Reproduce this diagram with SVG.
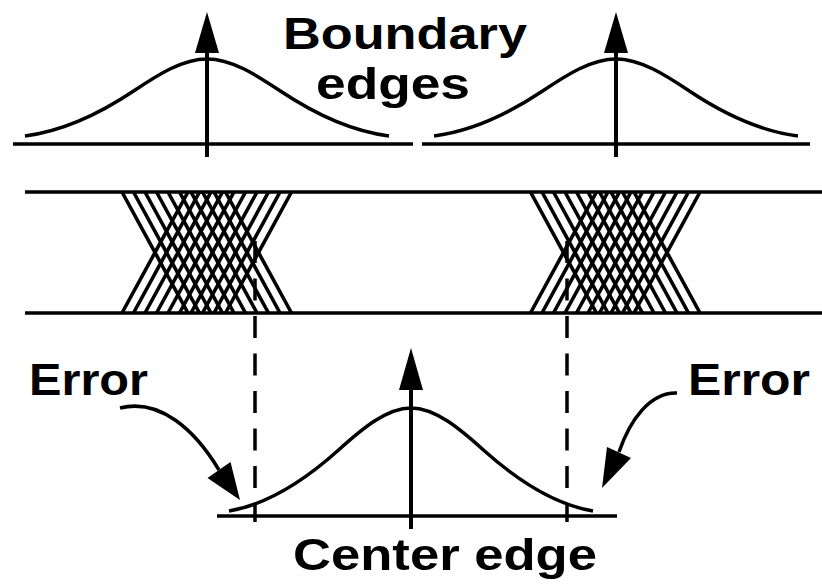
<svg xmlns="http://www.w3.org/2000/svg" xmlns:xlink="http://www.w3.org/1999/xlink" width="822" height="585" viewBox="0 0 822 585">
<style>
.ln{stroke:#000;stroke-width:3.5;fill:none}
.xl{stroke:#000;stroke-width:3.6;fill:none}
.ax{stroke:#000;stroke-width:4;fill:none}
.ds{stroke:#000;stroke-width:3.5;fill:none;stroke-dasharray:22 15.5}
.hd{fill:#000;stroke:none}
.t{font-family:"Liberation Sans",Arial,Helvetica,sans-serif;font-weight:bold;font-size:44px;fill:#000}
</style>
<defs>
<g id="xcross" class="xl">
<line x1="122" y1="192" x2="188" y2="313"/>
<line x1="133.5" y1="192" x2="199.5" y2="313"/>
<line x1="145" y1="192" x2="211" y2="313"/>
<line x1="156.5" y1="192" x2="222.5" y2="313"/>
<line x1="168" y1="192" x2="234" y2="313"/>
<line x1="179.5" y1="192" x2="245.5" y2="313"/>
<line x1="191" y1="192" x2="257" y2="313"/>
<line x1="202.5" y1="192" x2="268.5" y2="313"/>
<line x1="214" y1="192" x2="280" y2="313"/>
<line x1="225.5" y1="192" x2="291.5" y2="313"/>
<line x1="122" y1="313" x2="188" y2="192"/>
<line x1="133.5" y1="313" x2="199.5" y2="192"/>
<line x1="145" y1="313" x2="211" y2="192"/>
<line x1="156.5" y1="313" x2="222.5" y2="192"/>
<line x1="168" y1="313" x2="234" y2="192"/>
<line x1="179.5" y1="313" x2="245.5" y2="192"/>
<line x1="191" y1="313" x2="257" y2="192"/>
<line x1="202.5" y1="313" x2="268.5" y2="192"/>
<line x1="214" y1="313" x2="280" y2="192"/>
<line x1="225.5" y1="313" x2="291.5" y2="192"/>
</g>
</defs>

<g id="boundary-left">
<line class="ln" x1="13" y1="144" x2="413" y2="144"/>
<path class="ln" d="M25,136 C61.3,131.4 97.7,115.1 134,90.8 C158.3,74.5 182.7,59 207,59 C231.3,59 255.7,74.5 280,90.8 C316.3,115.1 352.7,131.4 389,136"/>
<line class="ax" x1="207" y1="157" x2="207" y2="48"/>
<polygon class="hd" points="207,12 195,53 219,53"/>
</g>

<g id="boundary-right">
<line class="ln" x1="422" y1="144" x2="810" y2="144"/>
<path class="ln" d="M434,136 C470.3,131.4 506.7,115.1 543,90.8 C567.3,74.5 591.7,59 616,59 C640.3,59 664.7,74.5 689,90.8 C725.3,115.1 761.7,131.4 798,136"/>
<line class="ax" x1="616" y1="157" x2="616" y2="48"/>
<polygon class="hd" points="616,12 604,53 628,53"/>
</g>

<g id="boundary-label">
<text class="t" x="283" y="49" textLength="244" lengthAdjust="spacingAndGlyphs">Boundary</text>
<text class="t" x="316" y="99" textLength="154" lengthAdjust="spacingAndGlyphs">edges</text>
</g>

<g id="eye">
<line class="ln" x1="25" y1="192" x2="822" y2="192"/>
<line class="ln" x1="25" y1="313" x2="822" y2="313"/>
<use xlink:href="#xcross"/>
<use xlink:href="#xcross" transform="translate(408.5,0)"/>
</g>

<g id="center">
<line class="ln" x1="217" y1="516" x2="617" y2="516"/>
<path class="ln" d="M229,511 C265.3,504.8 301.7,483 338,450.5 C362.3,428.7 386.7,408 411,408 C435.3,408 459.7,428.7 484,450.5 C520.3,483 556.7,504.8 593,511"/>
<line class="ax" x1="411" y1="529" x2="411" y2="385"/>
<polygon class="hd" points="411,348 399,390 423,390"/>
<text class="t" x="293" y="570" textLength="304" lengthAdjust="spacingAndGlyphs">Center edge</text>
</g>

<g id="error-left">
<text class="t" x="29" y="395" textLength="119" lengthAdjust="spacingAndGlyphs">Error</text>
</g>
<g id="error-right">
<text class="t" x="688" y="395" textLength="122" lengthAdjust="spacingAndGlyphs">Error</text>
</g>

<g id="connectors">
<line class="ds" x1="255" y1="241" x2="255" y2="522"/>
<line class="ds" x1="567" y1="241" x2="567" y2="522"/>
<path class="ln" d="M120,408 C160,398 195,430 219,470"/>
<polygon class="hd" points="240,500 207.5,478 230.5,462"/>
<path class="ln" d="M677,393 C650,392 630,420 619,452"/>
<polygon class="hd" points="602,488 607,447 631,458"/>
</g>
</svg>
